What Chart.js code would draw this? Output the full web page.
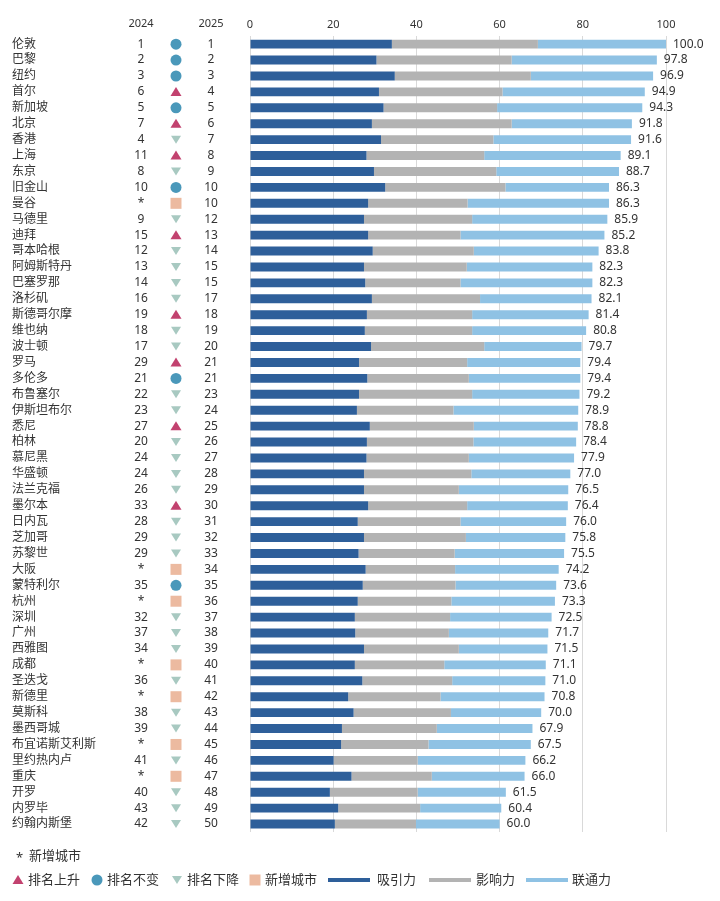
<!DOCTYPE html>
<html lang="zh-CN">
<head>
    <meta charset="UTF-8">
    <title>全球城市排名</title>
    <script src="https://cdn.jsdelivr.net/npm/chart.js"></script>
    <style>
        body { margin: 0; background: #fff; }
    </style>
</head>
<body>
    <canvas id="rankChart" width="720" height="901"></canvas>

    <script>
        // cities in 2025 order
        const cities = ['伦敦', '巴黎', '纽约', '首尔', '新加坡', '北京', '香港', '上海', '东京', '旧金山',
            '曼谷', '马德里', '迪拜', '哥本哈根', '阿姆斯特丹', '巴塞罗那', '洛杉矶', '斯德哥尔摩', '维也纳', '波士顿',
            '罗马', '多伦多', '布鲁塞尔', '伊斯坦布尔', '悉尼', '柏林', '慕尼黑', '华盛顿', '法兰克福', '墨尔本',
            '日内瓦', '芝加哥', '苏黎世', '大阪', '蒙特利尔', '杭州', '深圳', '广州', '西雅图', '成都',
            '圣迭戈', '新德里', '莫斯科', '墨西哥城', '布宜诺斯艾利斯', '里约热内卢', '重庆', '开罗', '内罗毕', '约翰内斯堡'];

        const rank2024 = ['1', '2', '3', '6', '5', '7', '4', '11', '8', '10',
            '*', '9', '15', '12', '13', '14', '16', '19', '18', '17',
            '29', '21', '22', '23', '27', '20', '24', '24', '26', '33',
            '28', '29', '29', '*', '35', '*', '32', '37', '34', '*',
            '36', '*', '38', '39', '*', '41', '*', '40', '43', '42'];

        const rank2025 = ['1', '2', '3', '4', '5', '6', '7', '8', '9', '10',
            '10', '12', '13', '14', '15', '15', '17', '18', '19', '20',
            '21', '21', '23', '24', '25', '26', '27', '28', '29', '30',
            '31', '32', '33', '34', '35', '36', '37', '38', '39', '40',
            '41', '42', '43', '44', '45', '46', '47', '48', '49', '50'];

        // U = up, S = same, D = down, N = new city
        const trend = ['S', 'S', 'S', 'U', 'S', 'U', 'D', 'U', 'D', 'S',
            'N', 'D', 'U', 'D', 'D', 'D', 'D', 'U', 'D', 'D',
            'U', 'S', 'D', 'D', 'U', 'D', 'D', 'D', 'D', 'U',
            'D', 'D', 'D', 'N', 'S', 'N', 'D', 'D', 'D', 'N',
            'D', 'N', 'D', 'D', 'N', 'D', 'N', 'D', 'D', 'D'];

        // 吸引力
        const attraction = [34.1, 30.4, 34.8, 31.0, 32.1, 29.3, 31.5, 28.0, 29.8, 32.5,
            28.4, 27.4, 28.4, 29.5, 27.4, 27.7, 29.3, 28.1, 27.6, 29.1,
            26.2, 28.2, 26.2, 25.7, 28.8, 28.1, 28.0, 27.4, 27.4, 28.4,
            25.9, 27.4, 26.1, 27.8, 27.1, 25.9, 25.2, 25.3, 27.4, 25.2,
            27.0, 23.6, 24.9, 22.1, 21.9, 20.1, 24.4, 19.2, 21.2, 20.4];

        // 影响力
        const influence = [35.1, 32.5, 32.7, 29.7, 27.3, 33.6, 27.0, 28.3, 29.4, 28.9,
            23.9, 26.0, 22.2, 24.3, 24.7, 22.9, 26.0, 25.3, 25.8, 27.2,
            26.0, 24.4, 27.2, 23.2, 25.0, 25.6, 24.6, 25.8, 22.8, 23.8,
            24.7, 24.5, 23.1, 21.5, 22.3, 22.5, 22.9, 22.5, 22.8, 21.5,
            21.6, 22.2, 23.4, 22.8, 21.0, 20.2, 19.3, 21.1, 19.7, 19.5];

        // 联通力
        const connectivity = [30.8, 34.9, 29.4, 34.2, 34.9, 28.9, 33.1, 32.8, 29.5, 24.9,
            34.0, 32.5, 34.6, 30.0, 30.2, 31.7, 26.8, 28.0, 27.4, 23.4,
            27.2, 26.8, 25.8, 30.0, 25.0, 24.7, 25.3, 23.8, 26.3, 24.2,
            25.4, 23.9, 26.3, 24.9, 24.2, 24.9, 24.4, 23.9, 21.3, 24.4,
            22.4, 25.0, 21.7, 23.0, 24.6, 25.9, 22.3, 21.2, 19.5, 20.1];

        const totals = [100.0, 97.8, 96.9, 94.9, 94.3, 91.8, 91.6, 89.1, 88.7, 86.3,
            86.3, 85.9, 85.2, 83.8, 82.3, 82.3, 82.1, 81.4, 80.8, 79.7,
            79.4, 79.4, 79.2, 78.9, 78.8, 78.4, 77.9, 77.0, 76.5, 76.4,
            76.0, 75.8, 75.5, 74.2, 73.6, 73.3, 72.5, 71.7, 71.5, 71.1,
            71.0, 70.8, 70.0, 67.9, 67.5, 66.2, 66.0, 61.5, 60.4, 60.0];

        const FONT = "'Noto Sans', 'Noto Sans CJK SC', sans-serif";
        const TEXT = '#333333';
        const BLUE = '#2e5f9a';
        const GREY = '#b3b3b3';
        const LIGHT = '#8fc2e4';
        const iconColors = { U: '#c2426f', S: '#4a98ba', D: '#a8c9c1', N: '#ecbaa0' };

        function drawIcon(ctx, kind, cx, cy) {
            ctx.fillStyle = iconColors[kind];
            ctx.beginPath();
            if (kind === 'U') {
                ctx.moveTo(cx, cy - 5);
                ctx.lineTo(cx + 5.5, cy + 4);
                ctx.lineTo(cx - 5.5, cy + 4);
            } else if (kind === 'D') {
                ctx.moveTo(cx - 5, cy - 4);
                ctx.lineTo(cx + 5, cy - 4);
                ctx.lineTo(cx, cy + 4);
            } else if (kind === 'S') {
                ctx.arc(cx, cy, 5.5, 0, Math.PI * 2);
            } else {
                ctx.rect(cx - 5.5, cy - 5.5, 11, 11);
            }
            ctx.closePath();
            ctx.fill();
        }

        // rank columns, value labels and the legend
        const extras = {
            id: 'extras',
            afterDraw(chart) {
                const { ctx, chartArea } = chart;
                const x = chart.scales.x;
                const y = chart.scales.y;
                ctx.save();
                ctx.fillStyle = TEXT;
                ctx.textBaseline = 'middle';
                ctx.textAlign = 'center';
                ctx.font = '11px ' + FONT;
                const headY = chartArea.top - 12;
                ctx.fillText('2024', 141, headY);
                ctx.fillText('2025', 211, headY);

                cities.forEach((c, i) => {
                    const py = y.getPixelForValue(i);
                    ctx.fillStyle = TEXT;
                    ctx.textAlign = 'center';
                    ctx.font = '12px ' + FONT;
                    ctx.fillText(rank2024[i], 141, py);
                    ctx.fillText(rank2025[i], 211, py);
                    drawIcon(ctx, trend[i], 176, py);
                    ctx.fillStyle = TEXT;
                    ctx.textAlign = 'left';
                    ctx.fillText(totals[i].toFixed(1), x.getPixelForValue(totals[i]) + 7, py);
                });

                // footnote + legend
                ctx.font = '13px ' + FONT;
                ctx.fillStyle = TEXT;
                ctx.textAlign = 'left';
                ctx.fillText('*', 16, 858);
                ctx.fillText('新增城市', 29, 856);

                const ly = 880;
                const marks = [['U', 18, '排名上升', 28], ['S', 97, '排名不变', 107],
                    ['D', 177, '排名下降', 187], ['N', 255, '新增城市', 265]];
                marks.forEach(m => {
                    drawIcon(ctx, m[0], m[1], ly);
                    ctx.fillStyle = TEXT;
                    ctx.fillText(m[2], m[3], ly);
                });
                const lines = [[BLUE, 328, '吸引力', 377], [GREY, 429, '影响力', 476], [LIGHT, 526, '联通力', 572]];
                lines.forEach(l => {
                    ctx.fillStyle = l[0];
                    ctx.fillRect(l[1], ly - 2, 42, 4);
                    ctx.fillStyle = TEXT;
                    ctx.fillText(l[2], l[3], ly);
                });
                ctx.restore();
            }
        };

        const ctx = document.getElementById('rankChart').getContext('2d');
        new Chart(ctx, {
            type: 'bar',
            data: {
                labels: cities,
                datasets: [
                    { label: '吸引力', data: attraction, backgroundColor: BLUE },
                    { label: '影响力', data: influence, backgroundColor: GREY },
                    { label: '联通力', data: connectivity, backgroundColor: LIGHT }
                ]
            },
            options: {
                indexAxis: 'y',
                responsive: false,
                animation: false,
                layout: { padding: { top: 13, left: 12, right: 54, bottom: 69 } },
                datasets: { bar: { categoryPercentage: 1, barPercentage: 0.56 } },
                plugins: {
                    legend: { display: false },
                    tooltip: { enabled: false }
                },
                scales: {
                    x: {
                        stacked: true,
                        position: 'top',
                        min: 0,
                        max: 100,
                        ticks: { stepSize: 20, padding: 5, color: TEXT, font: { family: FONT, size: 11 } },
                        grid: { color: '#d9d9d9', drawTicks: false },
                        border: { display: false }
                    },
                    y: {
                        stacked: true,
                        ticks: { autoSkip: false, crossAlign: 'far', color: TEXT, font: { family: FONT, size: 12 } },
                        grid: { display: false },
                        border: { display: false },
                        afterFit(scale) { scale.width = 238; }
                    }
                }
            },
            plugins: [extras]
        });
    </script>
</body>
</html>
